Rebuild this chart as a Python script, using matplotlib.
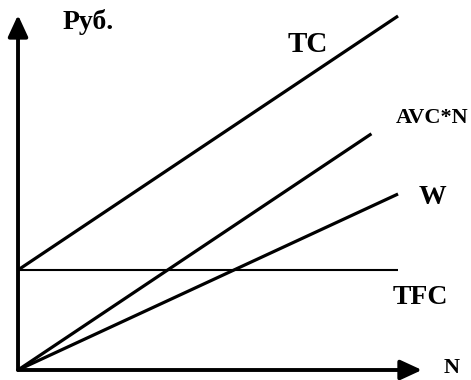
import numpy as np
import matplotlib
matplotlib.use("Agg")
import matplotlib.pyplot as plt

# Data (abstract units)
N_range = [0, 10]          # output range of TC, TFC, W
N_avc = [0, 9.3]           # AVC*N line shorter
TFC = 10.0
AVC = 2.54
W_rate = 1.76

n = np.array(N_range, dtype=float)
n2 = np.array(N_avc, dtype=float)
tfc_vals = np.full_like(n, TFC)
tc_vals = TFC + AVC * n
avcn_vals = AVC * n2
w_vals = W_rate * n

plt.rcParams['font.family'] = ['Liberation Serif', 'DejaVu Serif']

fig = plt.figure(figsize=(4.71, 3.80), dpi=100)
ax = fig.add_axes([0, 0, 1, 1])
ax.set_xlim(-0.474, 11.92)
ax.set_ylim(-1.0, 37.0)
ax.axis('off')

lw = 2.3
ax.plot(n, tc_vals, color='black', lw=lw, solid_capstyle='butt')
ax.plot(n2, avcn_vals, color='black', lw=lw, solid_capstyle='butt')
ax.plot(n, w_vals, color='black', lw=lw, solid_capstyle='butt')
ax.plot(n, tfc_vals, color='black', lw=1.5, solid_capstyle='butt')

# Axes arrows
ax.annotate('', xy=(0, 35.5), xytext=(0, 0),
            arrowprops=dict(arrowstyle='-|>,head_length=1.3,head_width=0.6',
                            color='black', lw=2.8, shrinkA=0, shrinkB=0))
ax.annotate('', xy=(10.63, 0), xytext=(0, 0),
            arrowprops=dict(arrowstyle='-|>,head_length=1.3,head_width=0.6',
                            color='black', lw=2.8, shrinkA=0, shrinkB=0))

fs = 20
ax.text(1.84, 34.8, 'Руб.', fontsize=fs, fontweight='bold', ha='center', va='center')
ax.text(7.63, 32.5, 'TC', fontsize=fs + 1, fontweight='bold', ha='center', va='center')
ax.text(10.9, 25.2, 'AVC*N', fontsize=16, fontweight='bold', ha='center', va='center')
ax.text(10.9, 17.3, 'W', fontsize=fs, fontweight='bold', ha='center', va='center')
ax.text(10.58, 7.2, 'TFC', fontsize=fs, fontweight='bold', ha='center', va='center')
ax.text(11.42, 0.2, 'N', fontsize=16, fontweight='bold', ha='center', va='center')

fig.savefig('out.png', dpi=100)
